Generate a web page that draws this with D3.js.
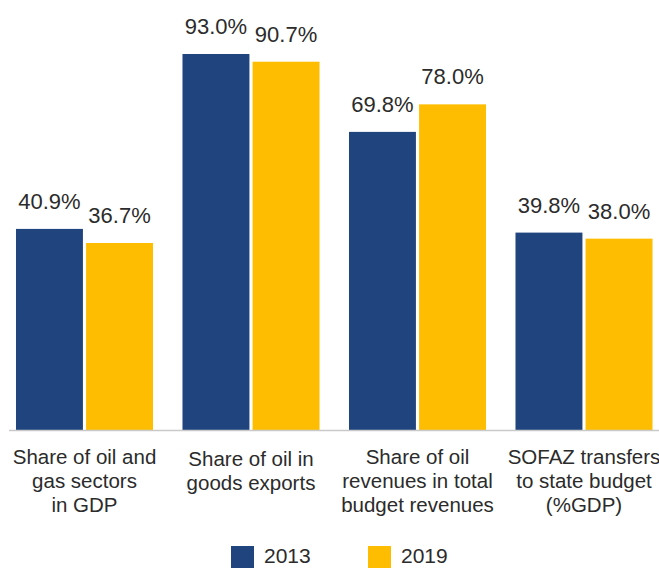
<!DOCTYPE html>
<html>
<head>
<meta charset="utf-8">
<script src="https://cdn.jsdelivr.net/npm/d3@7"></script>
<style>
  body { margin: 0; background: #fff; }
  text { font-family: "Liberation Sans", Arial, sans-serif; fill: #2b2b2b; }
</style>
</head>
<body>
<script>
// chart data
var categories = [
    ["Share of oil and", "gas sectors", "in GDP"],
    ["Share of oil in", "goods exports"],
    ["Share of oil", "revenues in total", "budget revenues"],
    ["SOFAZ transfers", "to state budget", "(%GDP)"]
];
var seriesNames = ["2013", "2019"];
var values2013 = [40.9, 93.0, 69.8, 39.8];
var values2019 = [36.7, 90.7, 78.0, 38.0];
var colors = ["#1f447e", "#ffbd00"];

var width = 659, height = 568;
var baseline = 430;

var svg = d3.select("body")
    .append("svg")
    .attr("width", width)
    .attr("height", height);

var data = categories.map((c, i) => ({
    idx: i,
    label: c,
    vals: [{key: "2013", v: values2013[i]}, {key: "2019", v: values2019[i]}]
}));

var x0 = d3.scaleBand()
    .domain(data.map(d => d.idx))
    .range([1.25, 667.25])
    .paddingInner(0.177)
    .paddingOuter(0.0885);

var x1 = d3.scaleBand()
    .domain(seriesNames)
    .range([0, x0.bandwidth()])
    .paddingInner(0.045);

var yscale = d3.scaleLinear()
    .domain([-19, 93])
    .range([baseline, 54]);

var color = d3.scaleOrdinal().domain(seriesNames).range(colors);

var groups = svg.selectAll("g.grp")
    .data(data)
    .join("g")
    .attr("class", "grp")
    .attr("transform", d => `translate(${x0(d.idx)},0)`);

groups.selectAll("rect")
    .data(d => d.vals)
    .join("rect")
    .attr("x", d => x1(d.key))
    .attr("width", x1.bandwidth())
    .attr("y", d => yscale(d.v))
    .attr("height", d => baseline - yscale(d.v))
    .attr("fill", d => color(d.key));

// value labels
groups.selectAll("text.val")
    .data(d => d.vals)
    .join("text")
    .attr("class", "val")
    .attr("x", d => x1(d.key) + x1.bandwidth() / 2)
    .attr("y", d => yscale(d.v) - 20)
    .attr("text-anchor", "middle")
    .attr("font-size", "22px")
    .text(d => d.v.toFixed(1) + "%");

// axis line
svg.append("line")
    .attr("x1", 9)
    .attr("x2", width)
    .attr("y1", baseline + 0.5)
    .attr("y2", baseline + 0.5)
    .attr("stroke", "#c9c9c9")
    .attr("stroke-width", 1.5);

// category labels
var catText = svg.selectAll("text.cat")
    .data(data)
    .join("text")
    .attr("class", "cat")
    .attr("text-anchor", "middle")
    .attr("font-size", "20.5px")
    .attr("transform", d => `translate(${x0(d.idx) + x0.bandwidth() / 2},${d.idx == 1 ? 466 : 464})`);

catText.selectAll("tspan")
    .data(d => d.label)
    .join("tspan")
    .attr("x", 0)
    .attr("y", (d, i) => i * 24)
    .text(d => d);

// legend
var legendX = [231, 368];
var legend = svg.selectAll("g.leg")
    .data(seriesNames)
    .join("g")
    .attr("class", "leg")
    .attr("transform", (d, i) => `translate(${legendX[i]},546)`);

legend.append("rect")
    .attr("width", 23)
    .attr("height", 22)
    .attr("fill", d => color(d));

legend.append("text")
    .attr("x", 33)
    .attr("y", 17)
    .attr("font-size", "21px")
    .text(d => d);
</script>
</body>
</html>
